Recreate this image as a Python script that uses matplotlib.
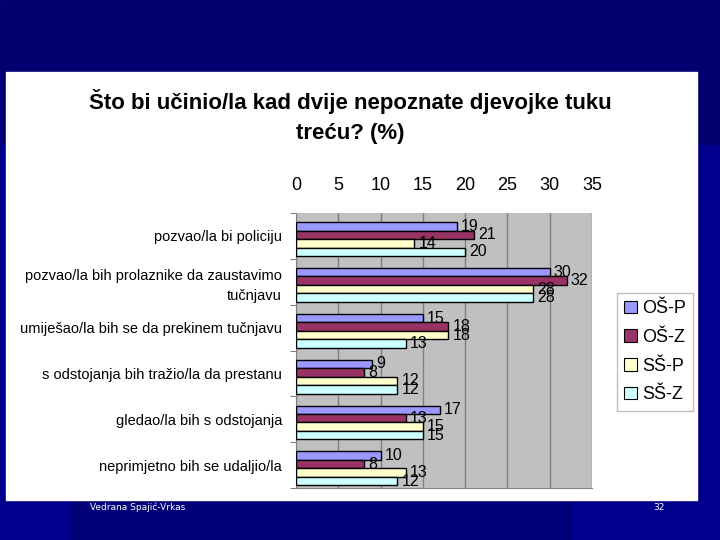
import numpy as np
import matplotlib
matplotlib.use("Agg")
import matplotlib.pyplot as plt
from matplotlib.patches import Rectangle

plt.rcParams['font.family'] = ['Liberation Sans', 'DejaVu Sans']

# Data
categories = [
    "pozvao/la bi policiju",
    "pozvao/la bih prolaznike da zaustavimo\ntučnjavu",
    "umiješao/la bih se da prekinem tučnjavu",
    "s odstojanja bih tražio/la da prestanu",
    "gledao/la bih s odstojanja",
    "neprimjetno bih se udaljio/la",
]
series_names = ["OŠ-P", "OŠ-Z", "SŠ-P", "SŠ-Z"]
os_p = [19, 30, 15, 9, 17, 10]
os_z = [21, 32, 18, 8, 13, 8]
ss_p = [14, 28, 18, 12, 15, 13]
ss_z = [20, 28, 13, 12, 15, 12]
x_ticks = [0, 5, 10, 15, 20, 25, 30, 35]

colors = ["#9999FF", "#993366", "#FFFFCC", "#CCFFFF"]

fig = plt.figure(figsize=(7.2, 5.4), dpi=100)

# slide background
bg = fig.add_axes([0, 0, 1, 1])
bg.set_xlim(0, 720)
bg.set_ylim(540, 0)
bg.axis("off")
bg.add_patch(Rectangle((0, 0), 720, 540, color="#000070"))
bg.add_patch(Rectangle((0, 145), 720, 395, color="#00008C"))
bg.add_patch(Rectangle((70, 500), 500, 40, color="#000078"))
bg.add_patch(Rectangle((6, 72), 691, 428, color="white"))
bg.text(90, 503, "Vedrana Spajić-Vrkas", color="white", fontsize=6.5,
        family="DejaVu Sans", va="top")
bg.text(665, 503, "32", color="white", fontsize=6.5, family="DejaVu Sans",
        va="top", ha="right")
bg.text(350, 102, "Što bi učinio/la kad dvije nepoznate djevojke tuku",
        ha="center", va="center", fontsize=16, fontweight="bold")
bg.text(350, 133, "treću? (%)", ha="center", va="center", fontsize=16,
        fontweight="bold")

ax = fig.add_axes([296 / 720, 1 - 488 / 540, 296 / 720, 275 / 540])
ax.set_facecolor("#C0C0C0")

data = [os_p, os_z, ss_p, ss_z]
n = len(categories)
h = 0.185
y = np.arange(n)
for i, (vals, c) in enumerate(zip(data, colors)):
    pos = y + (i - 1.5) * h + 0.07
    ax.barh(pos, vals, height=h, color=c, edgecolor="black", linewidth=1.0,
            zorder=3)
    for p, v in zip(pos, vals):
        ax.text(v + 0.5, p, str(v), va="center", ha="left", fontsize=11.5,
                zorder=4)

ax.set_xlim(0, 35)
ax.set_ylim(n - 0.5, -0.5)
ax.set_xticks(x_ticks)
ax.xaxis.tick_top()
ax.tick_params(axis="x", length=0, labelsize=13, pad=14)
ax.xaxis.grid(True, color="#808080", linewidth=1.0, zorder=0)
ax.set_axisbelow(True)

ax.set_yticks(np.arange(n + 1) - 0.5, minor=False)
ax.set_yticklabels([])
ax.set_yticks(y, minor=True)
ax.set_yticklabels(categories, minor=True, fontsize=10.5, linespacing=1.5)
ax.tick_params(axis="y", which="minor", length=0, pad=10)
ax.tick_params(axis="y", which="major", length=4, color="#808080")
for s in ["top", "right"]:
    ax.spines[s].set_visible(False)
ax.spines["left"].set_color("#808080")
ax.spines["bottom"].set_color("#808080")

handles = [Rectangle((0, 0), 1, 1, facecolor=c, edgecolor="black", linewidth=0.8)
           for c in colors]
fig.legend(handles, series_names, loc="upper left",
           bbox_to_anchor=(617 / 720, 1 - 293 / 540), fontsize=13,
           frameon=True, fancybox=False, edgecolor="#B0B0B0",
           handlelength=0.7, handleheight=0.7, handletextpad=0.3,
           labelspacing=0.65, borderpad=0.4, borderaxespad=0)

fig.savefig("out.png", dpi=100)
